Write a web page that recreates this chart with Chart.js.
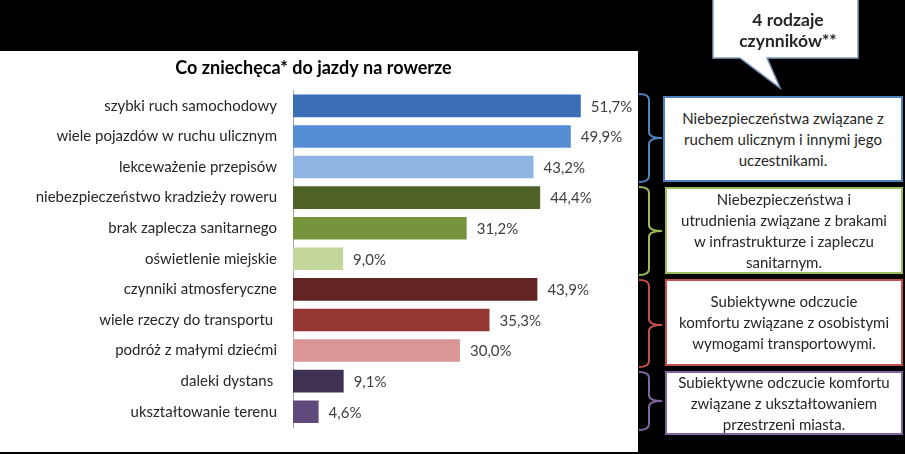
<!DOCTYPE html>
<html>
<head>
<meta charset="utf-8">
<script src="https://cdn.jsdelivr.net/npm/chart.js@4.4.1/dist/chart.umd.min.js"></script>
<style>
  body { margin: 0; background: #000; width: 905px; height: 454px; overflow: hidden; position: relative; font-family: Lato, "Open Sans", sans-serif; }
  #panel { position: absolute; left: 0; top: 51px; width: 638px; height: 401px; background: #fff; }
  #frame { position: absolute; left: 0; top: 0; }
  .box { position: absolute; background: #fff; box-sizing: border-box; border: 2px solid; color: #262626;
         font-size: 15px; line-height: 21px; text-align: center; display: flex; align-items: center; justify-content: center; }
  .callout { position: absolute; left: 713px; top: 9px; width: 150px; text-align: center; font-weight: bold; font-size: 17.5px; line-height: 21px; color: #262626; }
</style>
</head>
<body>
<div id="panel"><canvas id="chart" width="638" height="401"></canvas></div>

<svg id="frame" width="905" height="454">
  <!-- callout bubble -->
  <path d="M713,-2 L858,-2 L858,58 L767,58 L780,88 L740,58 L713,58 Z" fill="#fff" stroke="#7f9cc0" stroke-width="1.5"/>
  <!-- braces -->
  <path d="M639,94 Q649,94 649,100 L649,132 Q649,138 662,138 Q649,138 649,144 L649,176 Q649,182 639,182" fill="none" stroke="#4f81bd" stroke-width="2"/>
  <path d="M639,187 Q649,187 649,193 L649,225 Q649,231 662,231 Q649,231 649,237 L649,269 Q649,275 639,275" fill="none" stroke="#9bbb59" stroke-width="2"/>
  <path d="M639,280 Q649,280 649,286 L649,319 Q649,325 662,325 Q649,325 649,331 L649,361 Q649,367 639,367" fill="none" stroke="#c0504d" stroke-width="2"/>
  <path d="M639,372 Q649,372 649,378 L649,395 Q649,401 662,401 Q649,401 649,407 L649,424 Q649,430 639,430" fill="none" stroke="#8064a2" stroke-width="2"/>
</svg>

<div class="callout">4 rodzaje<br>czynników**</div>

<div class="box" style="left:663px; top:96px; width:240px; height:86px; border-color:#4f81bd;">Niebezpieczeństwa związane z<br>ruchem ulicznym i innymi jego<br>uczestnikami.</div>
<div class="box" style="left:665px; top:187px; width:238px; height:87px; border-color:#9bbb59;">Niebezpieczeństwa i<br>utrudnienia związane z brakami<br>w infrastrukturze i zapleczu<br>sanitarnym.</div>
<div class="box" style="left:665px; top:279px; width:238px; height:87px; border-color:#c0504d;">Subiektywne odczucie<br>komfortu związane z osobistymi<br>wymogami transportowymi.</div>
<div class="box" style="left:665px; top:371px; width:238px; height:64px; border-color:#8064a2;">Subiektywne odczucie komfortu<br>związane z ukształtowaniem<br>przestrzeni miasta.</div>

<script>
// chart data
const categories = [
  'szybki ruch samochodowy',
  'wiele pojazdów w ruchu ulicznym',
  'lekceważenie przepisów',
  'niebezpieczeństwo kradzieży roweru',
  'brak zaplecza sanitarnego',
  'oświetlenie miejskie',
  'czynniki atmosferyczne',
  'wiele rzeczy do transportu ',
  'podróż z małymi dziećmi',
  'daleki dystans ',
  'ukształtowanie terenu'
];
const values = [51.7, 49.9, 43.2, 44.4, 31.2, 9.0, 43.9, 35.3, 30.0, 9.1, 4.6];
const barColors = ['#3a6fb7', '#558ed5', '#8eb4e3', '#4f6228', '#77933c', '#c3d69b',
                   '#632523', '#953735', '#d99694', '#3f3151', '#604a7b'];

const valueLabels = {
  id: 'valueLabels',
  afterDatasetsDraw(chart) {
    const ctx = chart.ctx;
    const meta = chart.getDatasetMeta(0);
    ctx.save();
    ctx.font = '15px Lato, "Open Sans", sans-serif';
    ctx.fillStyle = '#404040';
    ctx.textAlign = 'left';
    ctx.textBaseline = 'middle';
    meta.data.forEach((bar, i) => {
      ctx.fillText(values[i].toFixed(1).replace('.', ',') + '%', bar.x + 10, bar.y + 1);
    });
    ctx.restore();
  }
};

const ctx = document.getElementById('chart').getContext('2d');
new Chart(ctx, {
  type: 'bar',
  data: {
    labels: categories,
    datasets: [{
      data: values,
      backgroundColor: barColors,
      borderWidth: 0,
      barPercentage: 0.74,
      categoryPercentage: 1
    }]
  },
  options: {
    indexAxis: 'y',
    responsive: false,
    animation: false,
    layout: { padding: { left: 0, right: 11, top: 0, bottom: 19 } },
    plugins: {
      legend: { display: false },
      tooltip: { enabled: false },
      title: {
        display: true,
        text: 'Co zniechęca* do jazdy na rowerze',
        color: '#000',
        font: { family: 'Lato, "Open Sans", sans-serif', size: 18, weight: 'bold' },
        padding: { top: 6, bottom: 12 }
      }
    },
    scales: {
      x: { display: false, min: 0, max: 60 },
      y: {
        afterFit(scale) { scale.width = 293; },
        grid: { display: false, drawTicks: false },
        border: { display: true, color: '#a6a6a6', width: 1 },
        ticks: { color: '#262626', padding: 16, font: { family: 'Lato, "Open Sans", sans-serif', size: 15 } }
      }
    }
  },
  plugins: [valueLabels]
});
</script>
</body>
</html>
